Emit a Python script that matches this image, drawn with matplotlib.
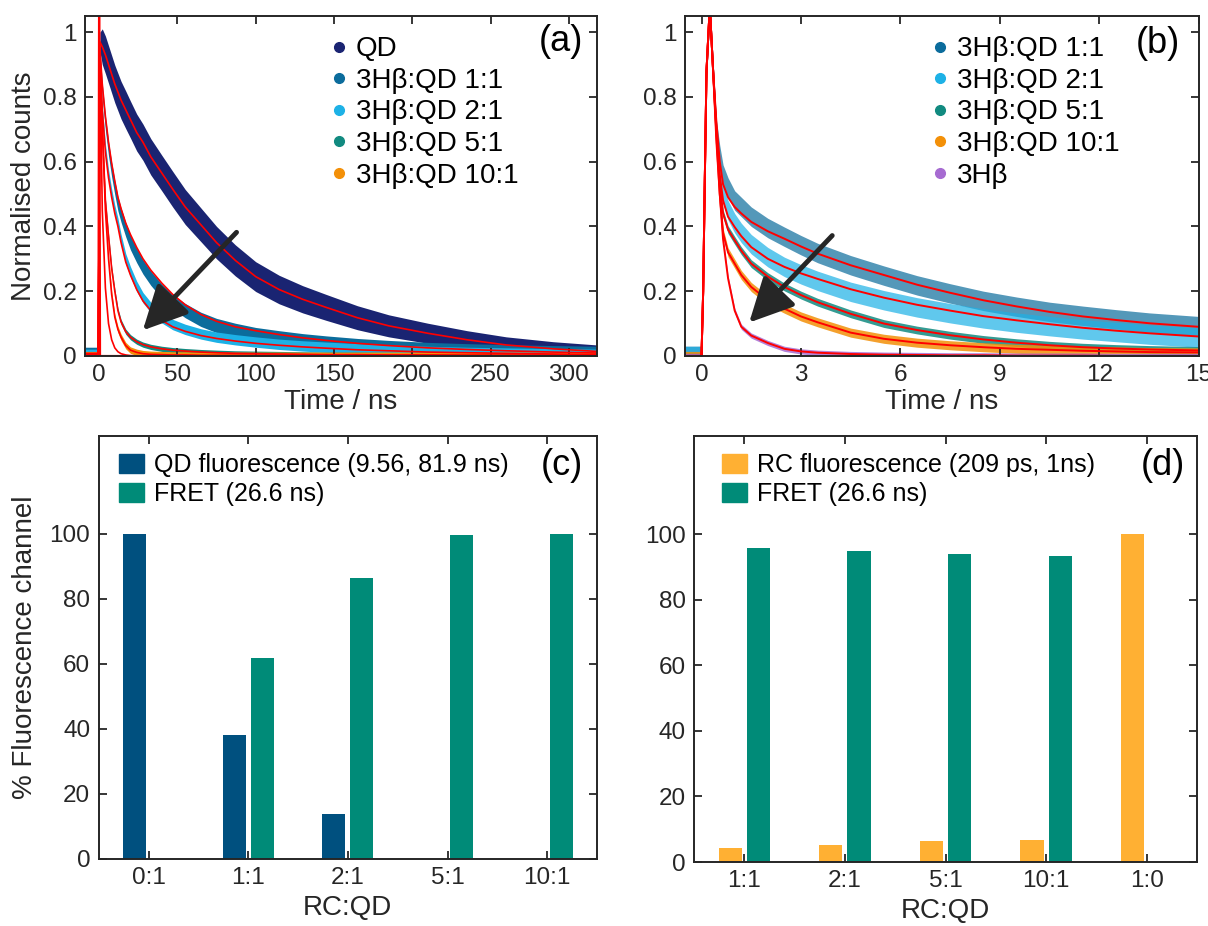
import numpy as np
import matplotlib
matplotlib.use("Agg")
import matplotlib.pyplot as plt
from matplotlib.lines import Line2D
from matplotlib.patches import Patch
from matplotlib.ticker import FormatStrFormatter

plt.rcParams["font.family"] = ["Liberation Sans", "DejaVu Sans"]

# ---- panel (a): long time window, ns ----
t_a = [-9, -0.5, 0.5, 2, 4, 6, 8, 10, 12, 14, 17, 20, 24, 28, 33, 40, 47, 55,
       65, 75, 87, 100, 115, 130, 145, 165, 185, 210, 235, 260, 290, 318]
qd_a = [0.008, 0.008, 0.97, 0.955, 0.93, 0.9, 0.87, 0.84, 0.815, 0.79, 0.76, 0.73,
        0.69, 0.66, 0.615, 0.565, 0.515, 0.46, 0.405, 0.35, 0.295, 0.245, 0.205, 0.175,
        0.15, 0.118, 0.093, 0.07, 0.05, 0.034, 0.022, 0.014]
qd_a_hw = [0.008, 0.008, 0.03, 0.055, 0.058, 0.058, 0.058, 0.058, 0.058, 0.058, 0.058,
           0.057, 0.057, 0.056, 0.056, 0.055, 0.055, 0.054, 0.052, 0.05, 0.048, 0.046,
           0.044, 0.042, 0.04, 0.037, 0.034, 0.031, 0.028, 0.025, 0.022, 0.02]
r11_a = [0.005, 0.005, 0.93, 0.82, 0.72, 0.64, 0.575, 0.52, 0.47, 0.435, 0.39, 0.35,
         0.31, 0.275, 0.24, 0.2, 0.168, 0.14, 0.113, 0.094, 0.079, 0.066, 0.056, 0.047,
         0.04, 0.032, 0.026, 0.02, 0.016, 0.013, 0.01, 0.008]
r11_a_fit = [0, 0, 0.95, 0.84, 0.74, 0.66, 0.595, 0.54, 0.49, 0.455, 0.41, 0.375,
             0.335, 0.3, 0.265, 0.225, 0.19, 0.158, 0.128, 0.107, 0.09, 0.078, 0.066,
             0.056, 0.048, 0.039, 0.032, 0.025, 0.02, 0.016, 0.012, 0.009]
r21_a = [0.005, 0.005, 0.9, 0.76, 0.64, 0.56, 0.5, 0.45, 0.41, 0.36, 0.3, 0.26,
         0.215, 0.18, 0.15, 0.118, 0.097, 0.082, 0.068, 0.058, 0.05, 0.043, 0.036,
         0.031, 0.027, 0.022, 0.018, 0.014, 0.011, 0.009, 0.007, 0.005]
r21_a_fit = [0, 0, 0.9, 0.76, 0.63, 0.55, 0.49, 0.44, 0.4, 0.35, 0.29, 0.25, 0.205,
             0.17, 0.14, 0.11, 0.09, 0.076, 0.063, 0.054, 0.046, 0.039, 0.033, 0.028,
             0.024, 0.019, 0.016, 0.012, 0.01, 0.008, 0.006, 0.004]
r51_a = [0.004, 0.004, 0.9, 0.7, 0.48, 0.37, 0.27, 0.2, 0.14, 0.105, 0.075, 0.058,
         0.044, 0.035, 0.028, 0.022, 0.018, 0.015, 0.012, 0.01, 0.008, 0.007, 0.006,
         0.005, 0.004, 0.004, 0.003, 0.003, 0.002, 0.002, 0.002, 0.002]
r101_a = [0.004, 0.004, 0.95, 0.72, 0.45, 0.3, 0.19, 0.12, 0.082, 0.058, 0.032, 0.018,
          0.011, 0.007, 0.005, 0.004, 0.003, 0.003, 0.002, 0.002, 0.002, 0.002, 0.002,
          0.002, 0.002, 0.002, 0.002, 0.002, 0.002, 0.002, 0.002, 0.002]
fast_a_fit = [0, 0, 0.95, 0.45, 0.21, 0.1, 0.05, 0.025, 0.013, 0.007, 0.003, 0.001,
              0, 0, 0, 0, 0, 0, 0, 0, 0, 0, 0, 0, 0, 0, 0, 0, 0, 0, 0, 0]
irf_a_t = [-9, -0.5, 0.05, 0.6, 318]
irf_a_y = [0, 0, 1.4, 0, 0]

# ---- panel (b): short time window, ns ----
t_b = [-0.5, 0.0, 0.05, 0.1, 0.15, 0.25, 0.35, 0.45, 0.55, 0.65, 0.8, 1.0, 1.2, 1.5,
       2.0, 2.5, 3.0, 3.5, 4.5, 5.5, 6.5, 7.5, 8.5, 9.5, 10.5, 11.5, 12.5, 13.5, 15.0]
rise_b = [0, 0, 0.2, 0.55, 0.88, 1.08, 0.88]
r11_b_fit = rise_b + [0.72, 0.6, 0.53, 0.49, 0.46, 0.44, 0.414, 0.385, 0.362, 0.338, 0.316,
                      0.28, 0.25, 0.22, 0.195, 0.172, 0.153, 0.136, 0.122, 0.111, 0.101, 0.09]
r21_b_fit = rise_b + [0.7, 0.56, 0.48, 0.43, 0.398, 0.37, 0.336, 0.3, 0.275, 0.255, 0.238,
                      0.206, 0.18, 0.158, 0.14, 0.123, 0.11, 0.098, 0.087, 0.078, 0.07, 0.06]
r51_b_fit = rise_b + [0.69, 0.53, 0.44, 0.39, 0.357, 0.325, 0.285, 0.245, 0.213, 0.188, 0.166,
                      0.13, 0.1, 0.08, 0.064, 0.051, 0.041, 0.033, 0.027, 0.023, 0.02, 0.017]
r101_b_fit = rise_b + [0.68, 0.5, 0.38, 0.32, 0.285, 0.25, 0.213, 0.172, 0.146, 0.122, 0.104,
                       0.072, 0.053, 0.041, 0.033, 0.027, 0.022, 0.019, 0.016, 0.014, 0.012, 0.011]
hb_b_fit = rise_b + [0.66, 0.5, 0.36, 0.24, 0.14, 0.09, 0.063, 0.04, 0.022, 0.014, 0.01,
                     0.006, 0.004, 0.003, 0.002, 0.002, 0.001, 0.001, 0.001, 0, 0, 0]
r11_b = rise_b + [0.7, 0.62, 0.56, 0.52, 0.48, 0.46, 0.43, 0.395, 0.368, 0.342, 0.318,
                  0.28, 0.248, 0.218, 0.193, 0.17, 0.152, 0.136, 0.124, 0.113, 0.103, 0.092]
r21_b = rise_b + [0.68, 0.57, 0.5, 0.45, 0.41, 0.38, 0.345, 0.305, 0.275, 0.252, 0.232,
                  0.198, 0.172, 0.15, 0.132, 0.116, 0.103, 0.092, 0.082, 0.074, 0.066, 0.057]

# ---- panels (c) and (d): bar data ----
cats_c = ["0:1", "1:1", "2:1", "5:1", "10:1"]
qd_fl = [100, 38.1, 13.7, 0, 0]
fret_c = [0, 61.9, 86.3, 99.5, 100]
cats_d = ["1:1", "2:1", "5:1", "10:1", "1:0"]
rc_fl = [4.3, 5.3, 6.3, 6.8, 100]
fret_d = [95.9, 94.8, 93.9, 93.5, 0]

C_QD = "#1a2472"
C_11 = "#0b6c9c"
C_21 = "#1db1e6"
C_51 = "#118a80"
C_101 = "#f39008"
C_HB = "#a66bd1"
C_FIT = "#ff0000"
C_BLUE = "#00507f"
C_TEAL = "#008b78"
C_ORANGE = "#ffb033"
INK = "#262626"

fig = plt.figure(figsize=(12.08, 9.26), dpi=100)
ax_a = fig.add_axes([0.0704, 0.6156, 0.4238, 0.3672])
ax_b = fig.add_axes([0.567, 0.6156, 0.4255, 0.3672])
ax_c = fig.add_axes([0.0817, 0.0724, 0.4125, 0.4568])
ax_d = fig.add_axes([0.5745, 0.0691, 0.4164, 0.46])


def style(ax):
    for s in ax.spines.values():
        s.set_color(INK)
        s.set_linewidth(1.4)
    ax.tick_params(direction="in", length=6, width=1.3, top=True, right=True,
                   labelsize=17.5, colors=INK, pad=6)


def band(ax, t, y, hw, color, alpha=1.0):
    y = np.array(y)
    hw = np.array(hw) if np.ndim(hw) else hw
    ax.fill_between(t, y - hw, y + hw, color=color, lw=0, alpha=alpha)


# (a)
band(ax_a, t_a, qd_a, qd_a_hw, C_QD)
band(ax_a, t_a, r11_a, 0.022, C_11)
band(ax_a, t_a, r21_a, 0.016, C_21)
band(ax_a, t_a, r51_a, 0.008, C_51)
band(ax_a, t_a, r101_a, 0.01, C_101)
for fit in [qd_a, r11_a_fit, r21_a_fit, r51_a, r101_a, fast_a_fit]:
    ax_a.plot(t_a, fit, color=C_FIT, lw=1.2)
ax_a.plot(irf_a_t, irf_a_y, color=C_FIT, lw=1.5)
ax_a.set_xlim(-9, 318)
ax_a.set_ylim(0, 1.05)
ax_a.set_xticks([0, 50, 100, 150, 200, 250, 300])
ax_a.set_yticks([0, 0.2, 0.4, 0.6, 0.8, 1])
ax_a.yaxis.set_major_formatter(FormatStrFormatter("%g"))
ax_a.set_xlabel("Time / ns", fontsize=20, color=INK, labelpad=2)
ax_a.set_ylabel("Normalised counts", fontsize=20, color=INK, labelpad=4)
style(ax_a)
ax_a.annotate("", xy=(26.7, 0.073), xytext=(89, 0.388),
              arrowprops=dict(arrowstyle="-|>,head_length=0.9,head_width=0.45",
                              color=INK, lw=3.5, mutation_scale=30))
ha = [Line2D([], [], marker="o", ls="none", ms=7, color=c)
      for c in [C_QD, C_11, C_21, C_51, C_101]]
ax_a.legend(ha, ["QD", "3Hβ:QD 1:1", "3Hβ:QD 2:1", "3Hβ:QD 5:1", "3Hβ:QD 10:1"],
            loc="upper left", bbox_to_anchor=(0.48, 0.94), frameon=False,
            fontsize=20, handlelength=0.6, handletextpad=0.3, labelspacing=0.2,
            borderpad=0, borderaxespad=0)
ax_a.text(0.93, 0.925, "(a)", transform=ax_a.transAxes, fontsize=26,
          ha="center", va="center", color="black")

# (b)
band(ax_b, t_b, r11_b, 0.03, C_11, 0.7)
band(ax_b, t_b, r21_b, 0.03, C_21, 0.7)
band(ax_b, t_b, r51_b_fit, 0.012, C_51, 0.85)
band(ax_b, t_b, r101_b_fit, 0.014, C_101, 0.85)
band(ax_b, t_b, hb_b_fit, 0.008, C_HB, 0.85)
for fit in [r11_b_fit, r21_b_fit, r51_b_fit, r101_b_fit, hb_b_fit]:
    ax_b.plot(t_b, fit, color=C_FIT, lw=1.4)
ax_b.set_xlim(-0.5, 15)
ax_b.set_ylim(0, 1.05)
ax_b.set_xticks([0, 3, 6, 9, 12, 15])
ax_b.set_yticks([0, 0.2, 0.4, 0.6, 0.8, 1])
ax_b.yaxis.set_major_formatter(FormatStrFormatter("%g"))
ax_b.set_xlabel("Time / ns", fontsize=20, color=INK, labelpad=2)
style(ax_b)
ax_b.annotate("", xy=(1.38, 0.097), xytext=(4.0, 0.378),
              arrowprops=dict(arrowstyle="-|>,head_length=0.9,head_width=0.45",
                              color=INK, lw=3.5, mutation_scale=30))
hb = [Line2D([], [], marker="o", ls="none", ms=7, color=c)
      for c in [C_11, C_21, C_51, C_101, C_HB]]
ax_b.legend(hb, ["3Hβ:QD 1:1", "3Hβ:QD 2:1", "3Hβ:QD 5:1", "3Hβ:QD 10:1", "3Hβ"],
            loc="upper left", bbox_to_anchor=(0.48, 0.94), frameon=False,
            fontsize=20, handlelength=0.6, handletextpad=0.3, labelspacing=0.2,
            borderpad=0, borderaxespad=0)
ax_b.text(0.92, 0.92, "(b)", transform=ax_b.transAxes, fontsize=26,
          ha="center", va="center", color="black")

# (c)
x = np.arange(1, 6)
ax_c.bar(x - 0.14, qd_fl, width=0.23, color=C_BLUE, lw=0)
ax_c.bar(x + 0.14, fret_c, width=0.23, color=C_TEAL, lw=0)
ax_c.set_xlim(0.5, 5.5)
ax_c.set_ylim(0, 130)
ax_c.set_xticks(x)
ax_c.set_xticklabels(cats_c)
ax_c.set_yticks([0, 20, 40, 60, 80, 100])
ax_c.set_xlabel("RC:QD", fontsize=20, color=INK, labelpad=4)
ax_c.set_ylabel("% Fluorescence channel", fontsize=20, color=INK, labelpad=8)
style(ax_c)
ax_c.legend([Patch(color=C_BLUE), Patch(color=C_TEAL)],
            ["QD fluorescence (9.56, 81.9 ns)", "FRET (26.6 ns)"],
            loc="upper left", bbox_to_anchor=(0.04, 0.96), frameon=False,
            fontsize=18, handlelength=1.0, handleheight=0.8, handletextpad=0.4,
            labelspacing=0.2, borderpad=0, borderaxespad=0)
ax_c.text(0.93, 0.93, "(c)", transform=ax_c.transAxes, fontsize=26,
          ha="center", va="center", color="black")

# (d)
ax_d.bar(x - 0.14, rc_fl, width=0.23, color=C_ORANGE, lw=0)
ax_d.bar(x + 0.14, fret_d, width=0.23, color=C_TEAL, lw=0)
ax_d.set_xlim(0.5, 5.5)
ax_d.set_ylim(0, 130)
ax_d.set_xticks(x)
ax_d.set_xticklabels(cats_d)
ax_d.set_yticks([0, 20, 40, 60, 80, 100])
ax_d.set_xlabel("RC:QD", fontsize=20, color=INK, labelpad=4)
style(ax_d)
ax_d.legend([Patch(color=C_ORANGE), Patch(color=C_TEAL)],
            ["RC fluorescence (209 ps, 1ns)", "FRET (26.6 ns)"],
            loc="upper left", bbox_to_anchor=(0.055, 0.96), frameon=False,
            fontsize=18, handlelength=1.0, handleheight=0.8, handletextpad=0.4,
            labelspacing=0.2, borderpad=0, borderaxespad=0)
ax_d.text(0.932, 0.93, "(d)", transform=ax_d.transAxes, fontsize=26,
          ha="center", va="center", color="black")

fig.savefig("out.png", dpi=100)
